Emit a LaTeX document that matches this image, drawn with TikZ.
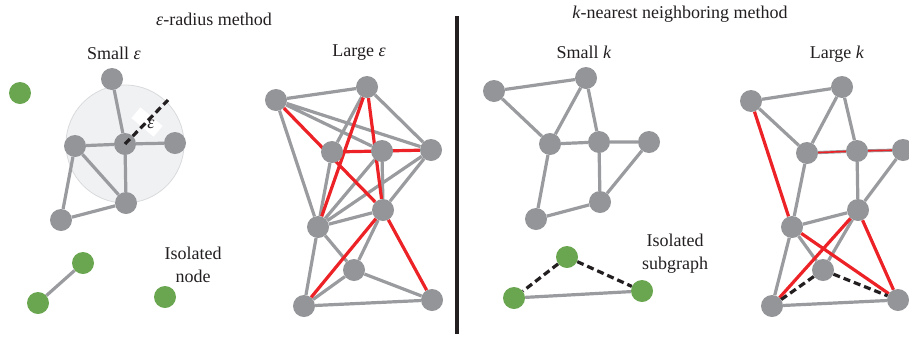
\documentclass[tikz,border=0pt]{standalone}
\usepackage{fontspec}
\setmainfont{Liberation Serif}
\usetikzlibrary{backgrounds}
\definecolor{ink}{HTML}{231F20}
\definecolor{nodeGray}{HTML}{939598}
\definecolor{linkGray}{HTML}{9A9B9E}
\definecolor{leafGreen}{HTML}{6AA650}
\definecolor{hotRed}{HTML}{EC2227}
\definecolor{ballFill}{HTML}{F0F1F3}
\definecolor{ballLine}{HTML}{D9DADC}
\tikzset{
  base/.style={font=\fontsize{18}{23}\selectfont, text=ink},
  heading/.style={base},
  note/.style={base, align=center},
  vtx/.style={circle, fill=nodeGray, minimum size=22pt, inner sep=0pt},
  lone/.style={vtx, fill=leafGreen},
  ball/.style={circle, fill=ballFill, draw=ballLine, line width=0.8pt, minimum size=118pt, inner sep=0pt},
  epsbox/.style={fill=white, minimum width=29pt, minimum height=14pt, inner sep=0pt},
  link/.style={line width=3.2pt, draw=linkGray},
  redlink/.style={line width=3.2pt, draw=hotRed},
  thinred/.style={line width=1.6pt, draw=hotRed},
  dashlink/.style={line width=3.2pt, draw=ink, dash pattern=on 7pt off 4pt},
  divider/.style={line width=4pt, draw=ink},
}

\begin{document}
\begin{tikzpicture}[x=1pt,y=-1pt]
  \useasboundingbox (0,0) rectangle (909,338);

  % titles
  \node[heading] (epsTitle) at (214,19) {\textit{ε}-radius method};
  \node[heading] (knnTitle) at (680,14) {\textit{k}-nearest neighboring method};
  \node[heading] (smallEps) at (114,53) {Small \textit{ε}};
  \node[heading] (largeEps) at (359,53) {Large \textit{ε}};
  \node[heading] (smallK) at (584,52) {Small \textit{k}};
  \node[heading] (largeK) at (837,54) {Large \textit{k}};
  \draw[divider] (457,16) -- (457,334);

  % small epsilon
  \node[lone] (ga) at (20,93) {};
  \node[vtx] (st) at (112,79) {};
  \node[vtx] (sc) at (125,144) {};
  \node[vtx] (sl) at (75,146) {};
  \node[vtx] (sr) at (175,143) {};
  \node[vtx] (sbr) at (126,203) {};
  \node[vtx] (sbl) at (61,220) {};
  \node[lone] (gb) at (83,263) {};
  \node[lone] (gc) at (38,303) {};
  \node[lone] (gd) at (165,297) {};
  \node[note] (isoNode) at (193,265) {Isolated\\node};
  \node[epsbox,rotate=-40] (epsBox) at (147,122) {};
  \coordinate (rim) at (168,100);
  \draw[dashlink] (sc.center) -- (rim);
  \node[base] (epsLbl) at (151,124) {\textit{ε}};

  % large epsilon
  \node[vtx] (la) at (276,100) {};
  \node[vtx] (lb) at (367,87) {};
  \node[vtx] (lc) at (332,152) {};
  \node[vtx] (ld) at (382,151) {};
  \node[vtx] (le) at (431,150) {};
  \node[vtx] (lf) at (383,210) {};
  \node[vtx] (lg) at (318,227) {};
  \node[vtx] (lh) at (354,270) {};
  \node[vtx] (li) at (304,306) {};
  \node[vtx] (lj) at (432,300) {};

  % small k
  \node[vtx] (ka) at (494,91) {};
  \node[vtx] (kb) at (586,78) {};
  \node[vtx] (kc) at (550,144) {};
  \node[vtx] (kd) at (599,142) {};
  \node[vtx] (ke) at (649,142) {};
  \node[vtx] (kf) at (600,202) {};
  \node[vtx] (kg) at (536,219) {};
  \node[lone] (kx) at (567,257) {};
  \node[lone] (ky) at (514,298) {};
  \node[lone] (kz) at (642,291) {};
  \node[note] (isoSub) at (675,254) {Isolated\\subgraph};

  % large k
  \node[vtx] (ma) at (751,101) {};
  \node[vtx] (mb) at (842,87) {};
  \node[vtx] (mc) at (807,153) {};
  \node[vtx] (md) at (857,151) {};
  \node[vtx] (me) at (903,150) {};
  \node[vtx] (mf) at (858,210) {};
  \node[vtx] (mg) at (792,227) {};
  \node[vtx] (mh) at (823,270) {};
  \node[vtx] (mi) at (772,306) {};
  \node[vtx] (mj) at (898,300) {};

  \begin{scope}[on background layer]
    \node[ball] (epsBall) at (sc) {};
    \draw[link] (st) -- (sc) (sl) -- (sc) (sc) -- (sr) (sc) -- (sbr)
      (sl) -- (sbr) (sl) -- (sbl) (sbl) -- (sbr) (gb) -- (gc);

    \draw[link] (la) -- (lb) (la) -- (ld) (la) -- (le) (la) -- (lg)
      (lb) -- (lc) (lb) -- (le) (lc) -- (lg) (ld) -- (lg) (le) -- (lg)
      (lf) -- (lg) (ld) -- (lf) (le) -- (lf) (lf) -- (lh) (lg) -- (lh)
      (lg) -- (li) (lh) -- (li) (lh) -- (lj) (li) -- (lj);
    \draw[redlink] (la) -- (lf) (lc) -- (le) (lb) -- (lg) (lb) -- (lf)
      (lf) -- (li) (lf) -- (lj);

    \draw[link] (ka) -- (kb) (ka) -- (kc) (kb) -- (kc) (kb) -- (kd)
      (kc) -- (kd) (kd) -- (ke) (kd) -- (kf) (ke) -- (kf) (kc) -- (kg)
      (kg) -- (kf) (ky) -- (kz);
    \draw[dashlink] (kx) -- (ky) (kx) -- (kz);

    \draw[link] (ma) -- (mb) (ma) -- (mc) (mb) -- (mc) (mb) -- (md)
      (mc) -- (md) (md) -- (me) (mc) -- (mg) (md) -- (mf) (me) -- (mf)
      (mf) -- (mg) (mg) -- (mi) (mg) -- (mh) (mf) -- (mh) (mi) -- (mj);
    \draw[thinred] (mc) -- (md) (md) -- (me);
    \draw[redlink] (ma) -- (mg) (mf) -- (mi) (mg) -- (mj) (mf) -- (mj);
    \draw[dashlink] (mi) -- (mh) (mh) -- (mj);
  \end{scope}
\end{tikzpicture}
\end{document}
